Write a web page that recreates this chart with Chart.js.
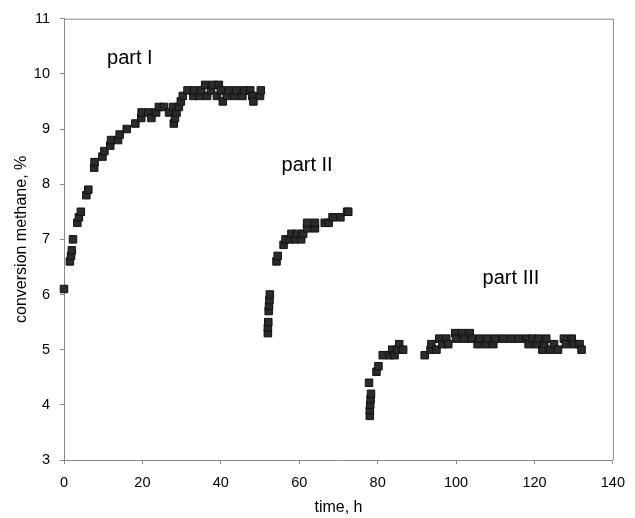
<!DOCTYPE html>
<html>
<head>
<meta charset="utf-8">
<script src="https://cdn.jsdelivr.net/npm/chart.js@4.4.1/dist/chart.umd.min.js"></script>
<style>
  body { margin: 0; background: #fff; }
  #wrap { width: 635px; height: 518px; }
</style>
</head>
<body>
<div id="wrap"><canvas id="chart" width="635" height="518"></canvas></div>
<script>
// part I
const partOneTime = [0, 1.5, 1.8, 2.0, 2.3, 3.4, 3.8, 4.3, 5.7, 6.2, 7.7, 7.8, 9.8, 10.3, 11.8, 12.0, 13.8, 14.2, 16.0, 18.2,
  19.7, 19.8, 21.5, 22.3, 23.5, 24.2, 25.5, 26.8, 27.8, 28.0, 28.3, 28.7, 29.3, 29.8, 30.3, 31.5, 33.0, 33.2, 34.5, 35.0,
  36.0, 36.5, 37.5, 38.0, 39.0, 39.5, 40.0, 40.5, 41.5, 42.0, 43.5, 44.0, 45.5, 46.0, 47.5, 48.0, 48.3, 50.0, 50.2];
const partOneConv = [6.1, 6.6, 6.7, 6.8, 7.0, 7.3, 7.4, 7.5, 7.8, 7.9, 8.3, 8.4, 8.5, 8.6, 8.7, 8.8, 8.8, 8.9, 9.0, 9.1,
  9.2, 9.3, 9.3, 9.2, 9.3, 9.4, 9.4, 9.3, 9.4, 9.1, 9.2, 9.3, 9.4, 9.5, 9.6, 9.7, 9.6, 9.7, 9.6, 9.7,
  9.8, 9.6, 9.7, 9.8, 9.6, 9.8, 9.7, 9.5, 9.6, 9.7, 9.6, 9.7, 9.6, 9.7, 9.7, 9.6, 9.5, 9.6, 9.7];

// part II
const partTwoTime = [52.0, 52.0, 52.1, 52.2, 52.3, 52.4, 52.5, 54.2, 54.5, 56.0, 56.5, 57.5, 58.0, 59.0, 59.5, 60.5, 61.0,
  62.0, 62.0, 64.0, 64.0, 66.5, 67.5, 68.5, 70.5, 72.2, 72.5];
const partTwoConv = [5.3, 5.4, 5.5, 5.7, 5.8, 5.9, 6.0, 6.6, 6.7, 6.9, 7.0, 7.0, 7.1, 7.0, 7.1, 7.0, 7.1,
  7.2, 7.3, 7.2, 7.3, 7.3, 7.3, 7.4, 7.4, 7.5, 7.5];

// part III
const partThreeTime = [78.0, 78.0, 78.1, 78.2, 78.3, 77.8, 79.7, 80.2, 81.3, 83.0, 83.7, 84.3, 85.0, 85.5, 86.5,
  92.0, 93.5, 93.7, 95.0, 95.7, 96.5, 97.5, 98.0, 99.8, 100.0, 101.5, 102.0, 103.5, 104.0, 105.5, 106.0, 107.5, 108.0,
  109.5, 110.0, 112.0, 114.0, 116.0, 118.0, 118.5, 119.5, 120.5, 121.0, 122.0, 122.5, 123.0, 124.0, 125.0, 126.0,
  127.5, 128.0, 129.5, 130.0, 131.5, 132.0];
const partThreeConv = [3.8, 3.9, 4.0, 4.1, 4.2, 4.4, 4.6, 4.7, 4.9, 4.9, 5.0, 4.9, 5.0, 5.1, 5.0,
  4.9, 5.0, 5.1, 5.0, 5.2, 5.1, 5.2, 5.1, 5.3, 5.2, 5.3, 5.2, 5.3, 5.2, 5.1, 5.2, 5.1, 5.2,
  5.1, 5.2, 5.2, 5.2, 5.2, 5.2, 5.1, 5.2, 5.1, 5.2, 5.0, 5.1, 5.2, 5.0, 5.1, 5.0,
  5.2, 5.1, 5.2, 5.1, 5.1, 5.0];

// text labels in the plot (data units)
const partLabels = ['part I', 'part II', 'part III'];
const partLabelX = [16.8, 62, 114];
const partLabelY = [10.28, 8.34, 6.29];

const toPoints = (xs, ys) => xs.map((x, i) => ({ x: x, y: ys[i] }));

const axisGray = '#8a8a8a';
const fontFamily = '"Liberation Sans", Arial, sans-serif';

// 枠線とラベル
const framePlugin = {
  id: 'frame',
  afterDraw(chart) {
    const { ctx, chartArea: a, scales } = chart;
    ctx.save();
    ctx.strokeStyle = axisGray;
    ctx.lineWidth = 1;
    ctx.beginPath();
    ctx.moveTo(a.left, a.top + 0.5);
    ctx.lineTo(a.right + 0.5, a.top + 0.5);
    ctx.lineTo(a.right + 0.5, a.bottom);
    ctx.stroke();

    ctx.fillStyle = '#000';
    ctx.font = '20px ' + fontFamily;
    ctx.textAlign = 'center';
    ctx.textBaseline = 'middle';
    partLabels.forEach((t, i) => {
      ctx.fillText(t, scales.x.getPixelForValue(partLabelX[i]), scales.y.getPixelForValue(partLabelY[i]));
    });
    ctx.restore();
  }
};

const markerStyle = {
  pointStyle: 'rect',
  pointRadius: 5.3,
  pointHoverRadius: 5.3,
  backgroundColor: '#2b2b2b',
  borderColor: '#111',
  borderWidth: 1,
  showLine: false,
  clip: false
};

new Chart(document.getElementById('chart'), {
  type: 'scatter',
  data: {
    datasets: [
      Object.assign({ label: 'part I', data: toPoints(partOneTime, partOneConv) }, markerStyle),
      Object.assign({ label: 'part II', data: toPoints(partTwoTime, partTwoConv) }, markerStyle),
      Object.assign({ label: 'part III', data: toPoints(partThreeTime, partThreeConv) }, markerStyle)
    ]
  },
  options: {
    responsive: false,
    animation: false,
    layout: { padding: { top: 15, right: 11, left: 0, bottom: 0 } },
    plugins: { legend: { display: false }, tooltip: { enabled: false } },
    scales: {
      x: {
        type: 'linear',
        min: 0,
        max: 140,
        afterFit: s => { s.height = 58; },
        ticks: { stepSize: 20, color: '#000', font: { family: fontFamily, size: 14.5 }, padding: 10, maxRotation: 0 },
        grid: { drawOnChartArea: false, drawTicks: true, tickLength: 4, color: axisGray },
        border: { color: axisGray },
        title: { display: true, text: 'time, h', color: '#000', font: { family: fontFamily, size: 16 }, padding: { top: 0, bottom: 1 } }
      },
      y: {
        min: 3,
        max: 11,
        afterFit: s => { s.width = 64; },
        ticks: { stepSize: 1, color: '#000', font: { family: fontFamily, size: 14.5 }, padding: 10 },
        grid: { drawOnChartArea: false, drawTicks: true, tickLength: 4, color: axisGray },
        border: { color: axisGray },
        title: { display: true, text: 'conversion methane, %', color: '#000', font: { family: fontFamily, size: 16 }, padding: { top: 12, bottom: 0 } }
      }
    }
  },
  plugins: [framePlugin]
});
</script>
</body>
</html>
